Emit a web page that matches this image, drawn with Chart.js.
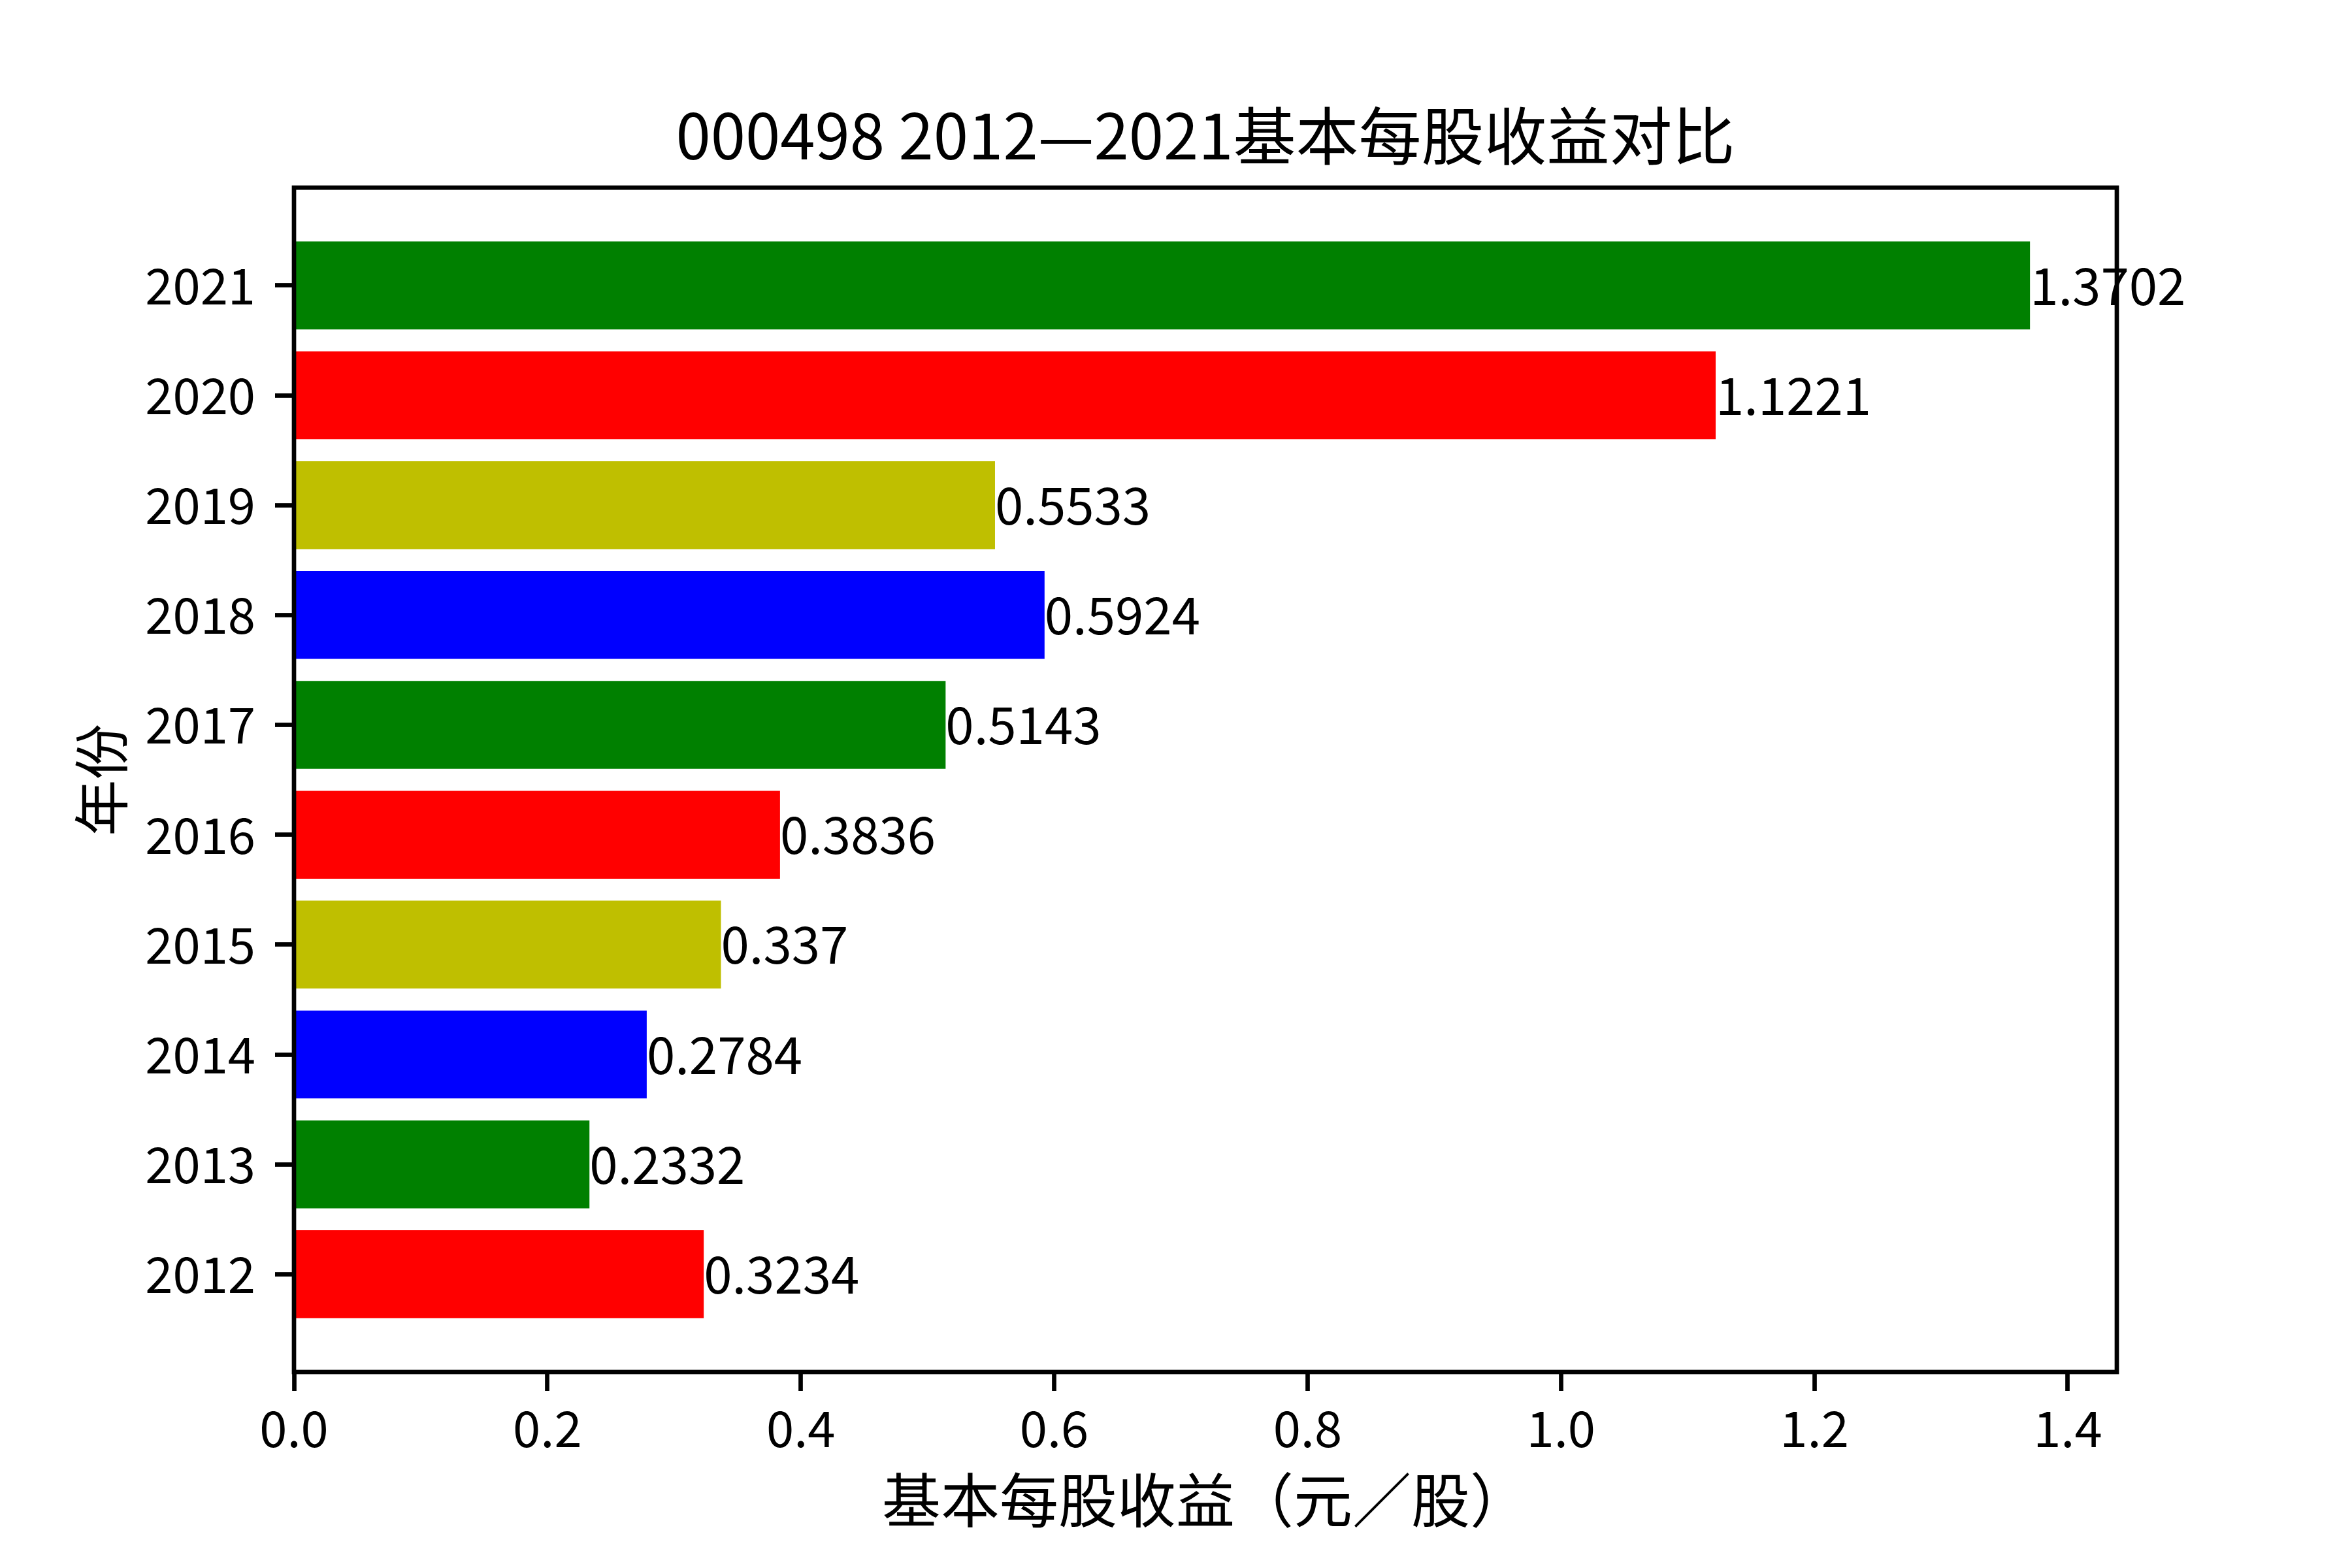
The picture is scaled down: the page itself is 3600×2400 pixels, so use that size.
<!DOCTYPE html>
<html>
<head>
<meta charset="utf-8">
<script src="https://cdn.jsdelivr.net/npm/chart.js@4.4.1/dist/chart.umd.min.js"></script>
<style>
  body { margin: 0; background: #fff; }
  #wrap { width: 3600px; height: 2400px; }
</style>
</head>
<body>
<div id="wrap"><canvas id="myChart" width="3600" height="2400"></canvas></div>
<script>
// dados
var years = ['2012', '2013', '2014', '2015', '2016', '2017', '2018', '2019', '2020', '2021'];
var eps = [0.3234, 0.2332, 0.2784, 0.337, 0.3836, 0.5143, 0.5924, 0.5533, 1.1221, 1.3702];
var barColors = ['#ff0000', '#008000', '#0000ff', '#bfbf00'];
var xTicks = [0, 0.2, 0.4, 0.6, 0.8, 1.0, 1.2, 1.4];

var fonte = '"Noto Sans CJK SC", "Noto Sans", sans-serif';
var linha = 6.7;

// limites parecidos com o matplotlib (margem de 5%)
var yLo = -0.4, yHi = years.length - 1 + 0.4;
var yPad = (yHi - yLo) * 0.05;
var xMax = Math.max.apply(null, eps) * 1.05;

var pontos = eps.map(function (v, i) { return {x: v, y: i}; });
var cores = eps.map(function (v, i) { return barColors[i % barColors.length]; });

// moldura em volta da area do grafico
var moldura = {
    id: 'moldura',
    afterDraw: function (chart) {
        var a = chart.chartArea;
        var ctx = chart.ctx;
        ctx.save();
        ctx.strokeStyle = '#000';
        ctx.lineWidth = linha;
        ctx.strokeRect(a.left, a.top, a.right - a.left, a.bottom - a.top);
        ctx.restore();
    }
};

// valor escrito no fim de cada barra
var rotulos = {
    id: 'rotulos',
    afterDatasetsDraw: function (chart) {
        var ctx = chart.ctx;
        var meta = chart.getDatasetMeta(0);
        ctx.save();
        ctx.fillStyle = '#000';
        ctx.font = '78px ' + fonte;
        ctx.textAlign = 'left';
        ctx.textBaseline = 'middle';
        meta.data.forEach(function (el, i) {
            ctx.fillText(String(eps[i]), el.x, el.y);
        });
        ctx.restore();
    }
};

var config = {
    type: 'bar',
    data: {
        datasets: [{
            data: pontos,
            backgroundColor: cores,
            borderWidth: 0,
            barPercentage: 0.8,
            categoryPercentage: 1.0
        }]
    },
    options: {
        indexAxis: 'y',
        responsive: false,
        devicePixelRatio: 1,
        animation: false,
        layout: { padding: { left: 0, right: 360, top: 0, bottom: 0 } },
        plugins: {
            legend: { display: false },
            tooltip: { enabled: false },
            title: {
                display: true,
                fullSize: false,
                text: '000498 2012—2021基本每股收益对比',
                color: '#000',
                font: { family: fonte, size: 96, weight: 'normal', lineHeight: 1.2 },
                padding: { top: 150, bottom: 22 }
            }
        },
        scales: {
            x: {
                type: 'linear',
                min: 0,
                max: xMax,
                afterFit: function (scale) { scale.height = 300; },
                afterBuildTicks: function (scale) {
                    scale.ticks = xTicks.map(function (v) { return {value: v}; });
                },
                ticks: {
                    color: '#000',
                    padding: 12,
                    maxRotation: 0,
                    font: { family: fonte, size: 76 },
                    callback: function (v) { return Number(v).toFixed(1); }
                },
                grid: {
                    drawOnChartArea: false,
                    drawTicks: true,
                    tickLength: 29,
                    tickWidth: linha,
                    tickColor: '#000'
                },
                border: { display: false },
                title: {
                    display: true,
                    text: '基本每股收益（元／股）',
                    color: '#000',
                    font: { family: fonte, size: 90, lineHeight: 1.2 },
                    padding: { top: 0, bottom: 50 }
                }
            },
            y: {
                type: 'linear',
                offset: false,
                min: yLo - yPad,
                max: yHi + yPad,
                afterFit: function (scale) { scale.width = 450; },
                afterBuildTicks: function (scale) {
                    scale.ticks = years.map(function (y, i) { return {value: i}; });
                },
                ticks: {
                    color: '#000',
                    padding: 30,
                    font: { family: fonte, size: 76 },
                    callback: function (v) { return years[v]; }
                },
                grid: {
                    offset: false,
                    drawOnChartArea: false,
                    drawTicks: true,
                    tickLength: 29,
                    tickWidth: linha,
                    tickColor: '#000'
                },
                border: { display: false },
                title: {
                    display: true,
                    text: '年份',
                    color: '#000',
                    font: { family: fonte, size: 86, lineHeight: 1.2 },
                    padding: { top: 104, bottom: 0 }
                }
            }
        }
    },
    plugins: [moldura, rotulos]
};

myChart = new Chart(document.getElementById('myChart'), config);
</script>
</body>
</html>
